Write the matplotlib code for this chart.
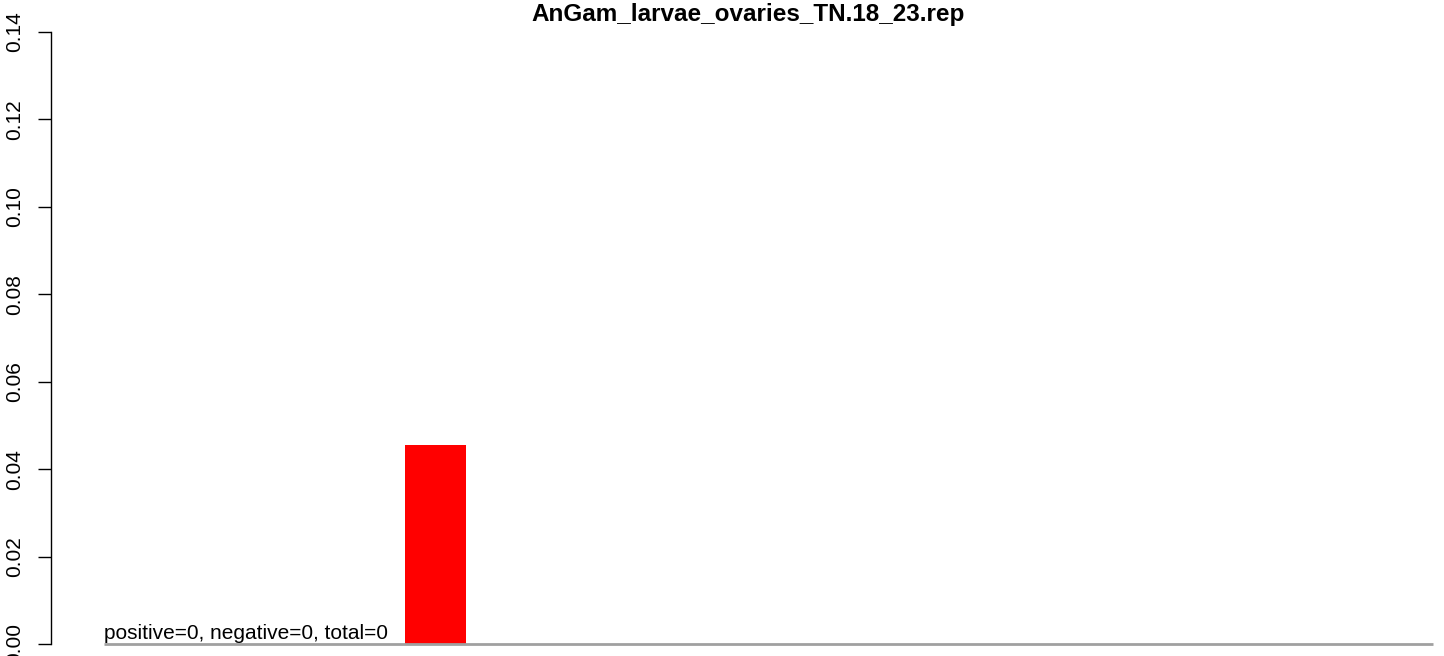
import numpy as np
import matplotlib.pyplot as plt

plt.rcParams['font.family'] = ['Liberation Sans', 'DejaVu Sans']

# Données
TITLE = 'AnGam_larvae_ovaries_TN.18_23.rep'
LABEL = 'positive=0, negative=0, total=0'
values = [0, 0, 0, 0, 0.0455, 0, 0, 0, 0, 0, 0, 0, 0, 0, 0, 0, 0, 0]
colors = ['red'] * len(values)
yticks = [0.00, 0.02, 0.04, 0.06, 0.08, 0.10, 0.12, 0.14]

W, H = 1444, 656
fig = plt.figure(figsize=(W / 100, H / 100), dpi=100)
ax = fig.add_axes([51 / W, (H - 644) / H, (1433 - 51) / W, (644 - 32) / H])

# barplot à la R : largeur 1, espace 0.2
n = len(values)
x = 0.2 + np.arange(n) * 1.2
ax.bar(x, values, width=1.0, align='edge', color=colors, edgecolor='none', zorder=2)
xmax = 21.94
ax.hlines(0, 0.04, xmax, color='#a0a0a0', lw=2, zorder=3, clip_on=False)

ax.set_xlim(-0.832, xmax)
ax.set_ylim(0, 0.14)

for s in ['top', 'right', 'bottom']:
    ax.spines[s].set_visible(False)
ax.spines['left'].set_linewidth(1.0)
ax.set_xticks([])
ax.set_yticks(yticks)
ax.set_yticklabels([f'{v:.2f}' for v in yticks], rotation=90, va='center', fontsize=15)
ax.tick_params(axis='y', length=9.5, width=1.0, pad=10)

ax.text(0.04, 0.0003, LABEL, fontsize=15, ha='left', va='bottom', zorder=4)
fig.text((51 + 1433) / 2 / W + 6 / W, 1 - 3 / H, TITLE, fontsize=17.5, fontweight='bold',
         ha='center', va='top')

fig.savefig('out.png', dpi=100)
plt.close(fig)
